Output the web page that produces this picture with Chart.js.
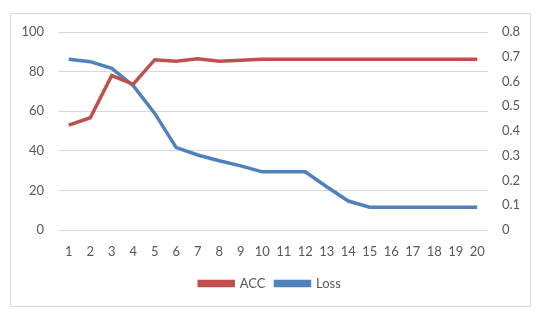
<!DOCTYPE html>
<html>
<head>
<meta charset="utf-8">
<script src="https://cdn.jsdelivr.net/npm/chart.js@4"></script>
<style>
    html, body { margin: 0; padding: 0; background: #fff; }
    #frame {
        position: absolute; left: 10px; top: 13px;
        width: 519px; height: 292px;
        border: 1px solid #d9d9d9;
    }
    #wrap { position: absolute; left: 0; top: 0; width: 560px; height: 318px; }
</style>
</head>
<body>
<div id="frame"></div>
<div id="wrap"><canvas id="trainChart"></canvas></div>
<script>
const epochs = ['1', '2', '3', '4', '5', '6', '7', '8', '9', '10',
    '11', '12', '13', '14', '15', '16', '17', '18', '19', '20'];
const accValues = [53, 56.7, 78, 73.6, 86, 85.2, 86.5, 85.2, 85.7, 86.2,
    86.3, 86.3, 86.3, 86.3, 86.3, 86.3, 86.3, 86.3, 86.3, 86.3];
const lossValues = [0.69, 0.68, 0.653, 0.583, 0.471, 0.333, 0.303, 0.28, 0.259, 0.235,
    0.235, 0.235, 0.175, 0.117, 0.092, 0.092, 0.092, 0.092, 0.092, 0.092];
const accTicks = [0, 20, 40, 60, 80, 100];
const lossTicks = [0, 0.1, 0.2, 0.3, 0.4, 0.5, 0.6, 0.7, 0.8];

const textColor = '#595959';
const fontFamily = 'Lato, "Open Sans", sans-serif';

const ctx = document.getElementById('trainChart').getContext('2d');
new Chart(ctx, {
    type: 'line',
    data: {
        labels: epochs,
        datasets: [{
            label: 'ACC',
            data: accValues,
            yAxisID: 'yAcc',
            borderColor: '#C0504D',
            backgroundColor: '#C0504D',
            borderWidth: 3.5,
            pointRadius: 0,
            tension: 0
        }, {
            label: 'Loss',
            data: lossValues,
            yAxisID: 'yLoss',
            borderColor: '#4F81BD',
            backgroundColor: '#4F81BD',
            borderWidth: 3.5,
            pointRadius: 0,
            tension: 0
        }]
    },
    options: {
        responsive: true,
        maintainAspectRatio: false,
        animation: false,
        layout: {
            padding: { left: 10, right: 30, top: 32, bottom: 18 }
        },
        plugins: {
            legend: {
                position: 'bottom',
                labels: {
                    color: textColor,
                    font: { family: fontFamily, size: 13 },
                    boxWidth: 34,
                    boxHeight: 4,
                    padding: 10
                }
            },
            tooltip: { enabled: false }
        },
        scales: {
            x: {
                offset: true,
                grid: { display: false, drawTicks: false },
                border: { display: false },
                afterFit: function(scale) { scale.height = 37; },
                ticks: {
                    color: textColor,
                    font: { family: fontFamily, size: 13 },
                    padding: 14,
                    maxRotation: 0,
                    autoSkip: false
                }
            },
            yAcc: {
                position: 'left',
                min: accTicks[0],
                max: accTicks[accTicks.length - 1],
                afterBuildTicks: function(scale) {
                    scale.ticks = accTicks.map(v => ({ value: v }));
                },
                afterFit: function(scale) { scale.width = 48; },
                grid: { color: '#d9d9d9', lineWidth: 1, drawTicks: false },
                border: { display: false },
                ticks: {
                    color: textColor,
                    font: { family: fontFamily, size: 13 },
                    padding: 14
                }
            },
            yLoss: {
                position: 'right',
                min: lossTicks[0],
                max: lossTicks[lossTicks.length - 1],
                afterBuildTicks: function(scale) {
                    scale.ticks = lossTicks.map(v => ({ value: v }));
                },
                afterFit: function(scale) { scale.width = 42; },
                grid: { display: false, drawTicks: false },
                border: { display: false },
                ticks: {
                    color: textColor,
                    font: { family: fontFamily, size: 13 },
                    padding: 14,
                    callback: function(value) {
                        return String(Math.round(value * 10) / 10);
                    }
                }
            }
        }
    }
});
</script>
</body>
</html>
